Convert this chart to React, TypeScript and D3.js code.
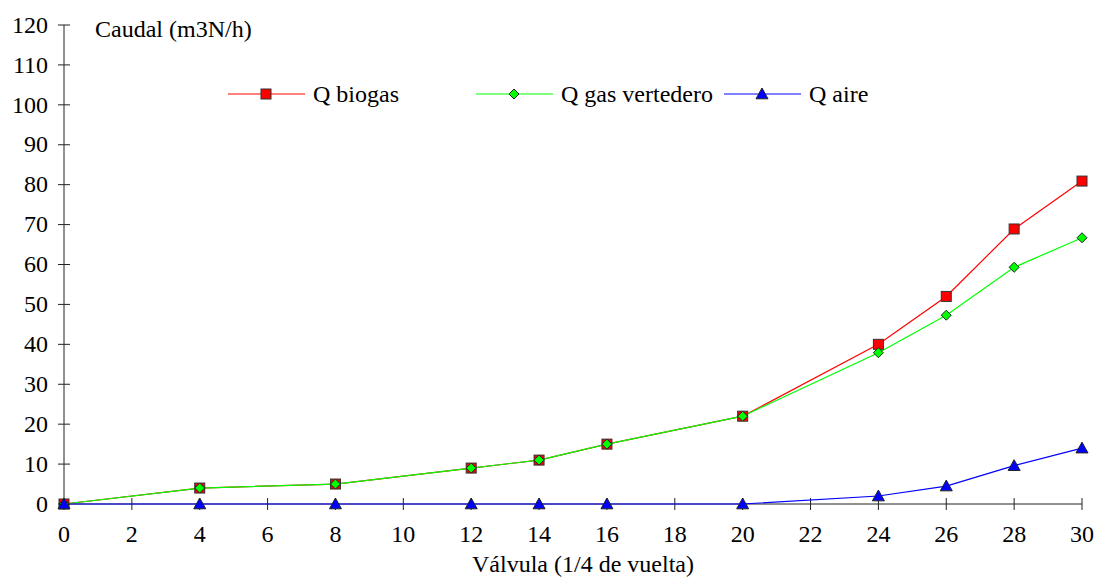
import React from "react";
import * as d3 from "d3";

const xValues = [0, 4, 8, 12, 14, 16, 20, 24, 26, 28, 30];
const qBiogas = [0, 4, 5, 9, 11, 15, 22, 40, 52, 68.9, 80.9];
const qGasVertedero = [0, 4, 5, 9, 11, 15, 22, 37.9, 47.3, 59.3, 66.7];
const qAire = [0, 0, 0, 0, 0, 0, 0, 2, 4.5, 9.6, 14];
const xTicks = [0, 2, 4, 6, 8, 10, 12, 14, 16, 18, 20, 22, 24, 26, 28, 30];
const yTicks = [0, 10, 20, 30, 40, 50, 60, 70, 80, 90, 100, 110, 120];
const seriesNames = ["Q biogas", "Q gas vertedero", "Q aire"];

const W = 1102;
const H = 582;
const FONT = "Liberation Serif, Times New Roman, DejaVu Serif, serif";

export default function App() {
  const x = d3.scaleLinear().domain([0, 30]).range([64, 1082]);
  const y = d3.scaleLinear().domain([0, 120]).range([504, 25]);

  const series = [
    { name: seriesNames[0], values: qBiogas, color: "#ff0000", marker: "square" },
    { name: seriesNames[1], values: qGasVertedero, color: "#00ff00", marker: "diamond" },
    { name: seriesNames[2], values: qAire, color: "#0000ff", marker: "triangle" },
  ];

  const line = d3
    .line<number>()
    .x((_, i) => x(xValues[i]))
    .y((d) => y(d));

  const marker = (kind: string, cx: number, cy: number, color: string, key: string) => {
    if (kind === "square") {
      return (
        <rect key={key} x={cx - 5} y={cy - 5} width={10} height={10} fill={color} stroke="#333" strokeWidth={1} />
      );
    }
    if (kind === "diamond") {
      const r = 5;
      return (
        <polygon
          key={key}
          points={`${cx},${cy - r} ${cx + r},${cy} ${cx},${cy + r} ${cx - r},${cy}`}
          fill={color}
          stroke="#222"
          strokeWidth={1}
        />
      );
    }
    const s = 6;
    return (
      <polygon
        key={key}
        points={`${cx},${cy - s} ${cx + s},${cy + s * 0.8} ${cx - s},${cy + s * 0.8}`}
        fill={color}
        stroke="#222"
        strokeWidth={1}
      />
    );
  };

  const legendItems = [
    { lx: 228, tx: 313 },
    { lx: 476, tx: 561 },
    { lx: 724, tx: 809 },
  ];
  const legendY = 94;
  const ts = { fontFamily: FONT, fontSize: "24px" } as React.CSSProperties;

  return (
    <svg
      width={W}
      height={H}
      style={{ position: "absolute", left: 0, top: 0, background: "#fff", fontFamily: FONT }}
    >
      <rect x={0} y={0} width={W} height={H} fill="#fff" />
      {/* axes */}
      <line x1={64} x2={64} y1={y(120)} y2={y(0)} stroke="#222" strokeWidth={1} />
      <line x1={64} x2={1082} y1={y(0)} y2={y(0)} stroke="#222" strokeWidth={1} />
      {yTicks.map((t) => (
        <g key={"yt" + t}>
          <line x1={58} x2={70} y1={y(t)} y2={y(t)} stroke="#222" strokeWidth={1} />
          <text x={48} y={y(t)} dy="0.32em" textAnchor="end" style={ts} fill="#000">
            {t}
          </text>
        </g>
      ))}
      {xTicks.map((t) => (
        <g key={"xt" + t}>
          <line x1={x(t)} x2={x(t)} y1={498} y2={510} stroke="#222" strokeWidth={1} />
          <text x={x(t)} y={542} textAnchor="middle" style={ts} fill="#000">
            {t}
          </text>
        </g>
      ))}
      <text x={583} y={572} textAnchor="middle" style={ts} fill="#000">
        Válvula (1/4 de vuelta)
      </text>
      <text x={95} y={37} style={ts} fill="#000">
        Caudal (m3N/h)
      </text>

      {/* lines */}
      {series.map((s) => (
        <path key={"l" + s.name} d={line(s.values) || ""} fill="none" stroke={s.color} strokeWidth={1.2} />
      ))}
      {series.map((s) =>
        s.values.map((v, i) => marker(s.marker, x(xValues[i]), y(v), s.color, s.name + i))
      )}

      {/* legend */}
      {series.map((s, i) => (
        <g key={"lg" + s.name}>
          <line
            x1={legendItems[i].lx}
            x2={legendItems[i].lx + 77}
            y1={legendY}
            y2={legendY}
            stroke={s.color}
            strokeWidth={1.2}
          />
          {marker(s.marker, legendItems[i].lx + 38, legendY, s.color, "lm" + i)}
          <text x={legendItems[i].tx} y={legendY} dy="0.32em" style={ts} fill="#000">
            {s.name}
          </text>
        </g>
      ))}
    </svg>
  );
}
